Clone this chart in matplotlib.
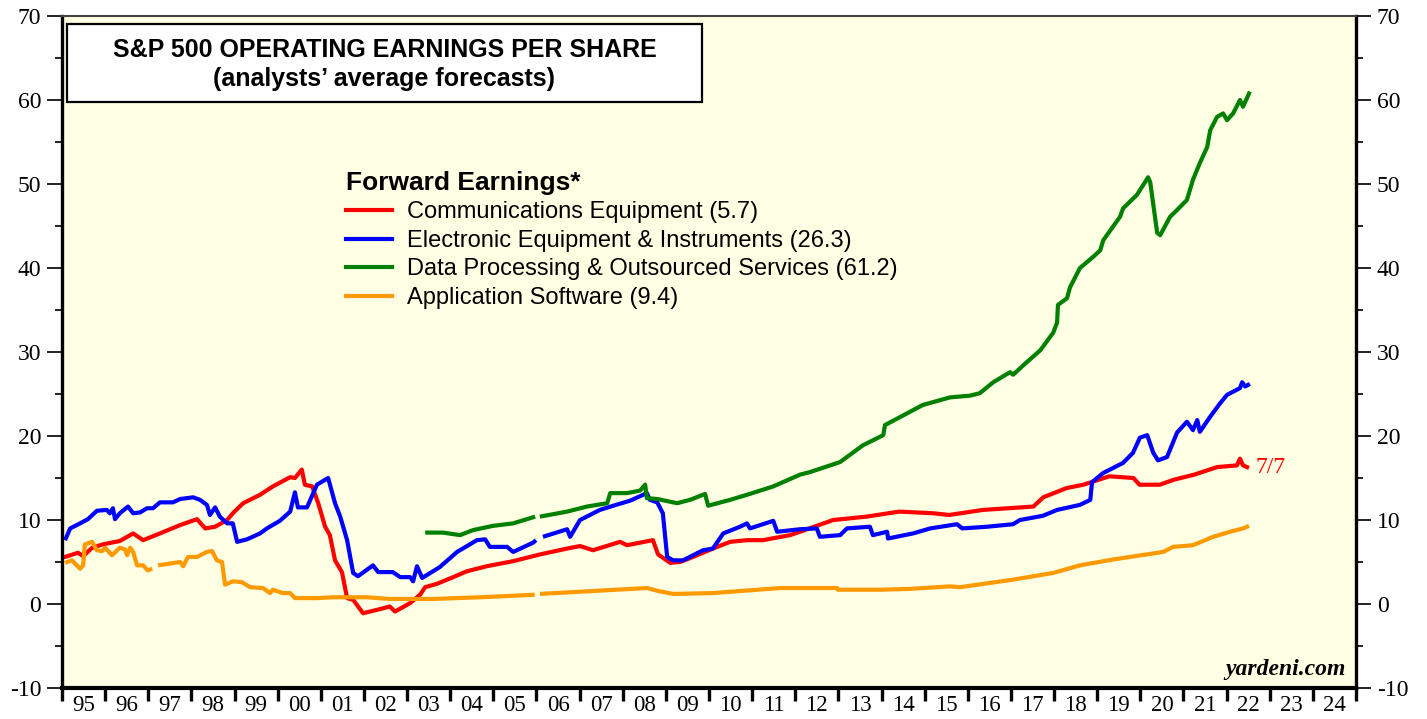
import numpy as np
import matplotlib
matplotlib.use('Agg')
import matplotlib.pyplot as plt
from matplotlib.patches import Rectangle
from matplotlib.ticker import MultipleLocator, NullFormatter
from matplotlib.lines import Line2D

nan = np.nan
plt.rcParams['axes.unicode_minus'] = False

# Communications Equipment (fractional year, forward EPS)
comm_x = [1995.00, 1995.07, 1995.37, 1995.49, 1995.70, 1995.95, 1996.34, 1996.65, 1996.88, 1997.27,
          1997.74, 1998.13, 1998.32, 1998.55, 1998.83, 1998.96, 1999.20, 1999.59, 1999.89, 2000.29,
          2000.40, 2000.56, 2000.63, 2000.80, 2000.94, 2001.10, 2001.21, 2001.33, 2001.49, 2001.61,
          2001.75, 2001.98, 2002.30, 2002.60, 2002.72, 2003.07, 2003.30, 2003.42, 2003.69, 2004.07,
          2004.39, 2004.85, 2005.46, 2006.08, 2006.71, 2007.01, 2007.31, 2007.94, 2008.10, 2008.70,
          2008.82, 2009.10, 2009.33, 2009.63, 2010.09, 2010.49, 2010.88, 2011.25, 2011.88, 2012.11,
          2012.88, 2013.65, 2014.41, 2015.20, 2015.57, 2016.35, 2017.52, 2017.75, 2018.29, 2018.68,
          2019.28, 2019.84, 2019.98, 2020.45, 2020.78, 2021.25, 2021.78, 2022.24, 2022.31, 2022.38,
          2022.52]
comm_y = [5.6, 5.6, 6.1, 5.7, 6.7, 7.1, 7.5, 8.4, 7.6, 8.4,
          9.4, 10.1, 9.0, 9.2, 10.0, 10.8, 12.0, 13.0, 14.0, 15.1,
          15.0, 16.0, 14.2, 14.0, 12.0, 9.2, 8.2, 5.2, 3.8, 0.7,
          0.5, -1.1, -0.7, -0.3, -0.9, 0.1, 1.1, 2.0, 2.4, 3.2,
          3.9, 4.5, 5.1, 5.9, 6.6, 6.9, 6.4, 7.4, 7.0, 7.6,
          5.9, 4.9, 5.0, 5.6, 6.6, 7.4, 7.6, 7.6, 8.2, 8.6,
          10.0, 10.4, 11.0, 10.8, 10.6, 11.2, 11.6, 12.7, 13.8, 14.2,
          15.2, 15.0, 14.2, 14.2, 14.8, 15.4, 16.3, 16.5, 17.3, 16.5,
          16.2]

# Electronic Equipment & Instruments
elec_x = [1995.07, 1995.19, 1995.42, 1995.60, 1995.81, 1996.04, 1996.11, 1996.18, 1996.23, 1996.34,
          1996.53, 1996.65, 1996.81, 1996.97, 1997.11, 1997.27, 1997.57, 1997.74, 1998.04, 1998.20,
          1998.36, 1998.43, 1998.55, 1998.66, 1998.83, 1998.96, 1999.06, 1999.29, 1999.59, 1999.75,
          2000.05, 2000.29, 2000.40, 2000.47, 2000.68, 2000.91, 2001.17, 2001.33, 2001.45, 2001.61,
          2001.75, 2001.86, 2002.21, 2002.33, 2002.67, 2002.84, 2003.07, 2003.14, 2003.23, 2003.35,
          2003.76, 2004.16, 2004.62, 2004.81, 2004.92, 2005.32, 2005.46, 2005.92, 2005.99, 2006.05,
          2006.15, 2006.71, 2006.78, 2007.01, 2007.47, 2007.78, 2008.17, 2008.56, 2008.63, 2008.80,
          2008.93, 2009.03, 2009.17, 2009.40, 2009.86, 2010.09, 2010.33, 2010.72, 2010.88, 2010.95,
          2011.49, 2011.58, 2012.11, 2012.50, 2012.57, 2013.04, 2013.20, 2013.73, 2013.80, 2014.13,
          2014.15, 2014.73, 2015.13, 2015.75, 2015.87, 2016.45, 2017.05, 2017.21, 2017.74, 2018.07,
          2018.60, 2018.84, 2018.88, 2019.14, 2019.60, 2019.83, 2019.99, 2020.16, 2020.30, 2020.41,
          2020.62, 2020.85, 2021.08, 2021.22, 2021.32, 2021.38, 2021.62, 2021.85, 2022.01, 2022.31,
          2022.36, 2022.43, 2022.54]
elec_y = [7.6, 9.0, 9.6, 10.1, 11.1, 11.2, 10.8, 11.4, 10.1, 10.8,
          11.6, 10.8, 10.9, 11.4, 11.4, 12.1, 12.1, 12.5, 12.7, 12.4,
          11.8, 10.6, 11.5, 10.4, 9.6, 9.6, 7.4, 7.7, 8.4, 9.0,
          9.9, 11.0, 13.3, 11.5, 11.5, 14.2, 15.0, 12.0, 10.4, 7.6,
          3.7, 3.3, 4.6, 3.8, 3.8, 3.2, 3.2, 2.7, 4.5, 3.1,
          4.4, 6.2, 7.6, 7.7, 6.8, 6.8, 6.2, 7.3, 7.6, nan,
          8.0, 8.9, 8.0, 10.0, 11.2, 11.7, 12.3, 13.2, 12.4, 12.1,
          10.8, 5.6, 5.2, 5.2, 6.4, 6.6, 8.4, 9.2, 9.6, 9.0,
          9.9, 8.6, 8.9, 9.0, 8.0, 8.2, 9.0, 9.2, 8.2, 8.6,
          7.8, 8.4, 9.0, 9.5, 9.0, 9.2, 9.5, 10.0, 10.5, 11.2,
          11.8, 12.4, 14.5, 15.6, 16.8, 18.0, 19.8, 20.1, 18.0, 17.1,
          17.5, 20.4, 21.7, 20.7, 21.9, 20.5, 22.3, 23.9, 24.9, 25.7,
          26.4, 25.9, 26.2]

# Data Processing & Outsourced Services
data_x = [2003.42, 2003.83, 2004.23, 2004.53, 2004.99, 2005.46, 2005.97, 2006.03, 2006.08, 2006.71,
          2007.17, 2007.64, 2007.71, 2008.10, 2008.40, 2008.52, 2008.56, 2008.80, 2009.26, 2009.56,
          2009.91, 2009.98, 2010.49, 2010.88, 2011.49, 2012.11, 2012.34, 2013.04, 2013.57, 2014.04,
          2014.08, 2014.96, 2015.59, 2016.05, 2016.28, 2016.59, 2016.98, 2017.05, 2017.37, 2017.68,
          2017.98, 2018.07, 2018.09, 2018.30, 2018.37, 2018.60, 2018.90, 2019.07, 2019.14, 2019.53,
          2019.60, 2019.92, 2020.18, 2020.23, 2020.39, 2020.46, 2020.69, 2020.85, 2021.08, 2021.22,
          2021.38, 2021.55, 2021.62, 2021.78, 2021.92, 2022.01, 2022.15, 2022.31, 2022.38, 2022.54]
data_y = [8.5, 8.5, 8.2, 8.8, 9.3, 9.6, 10.4, nan, 10.4, 11.0,
          11.6, 12.0, 13.2, 13.2, 13.5, 14.2, 12.6, 12.5, 12.0, 12.4,
          13.1, 11.7, 12.4, 13.0, 14.0, 15.4, 15.7, 16.9, 18.9, 20.1,
          21.3, 23.7, 24.6, 24.8, 25.1, 26.4, 27.6, 27.3, 28.8, 30.2,
          32.3, 33.5, 35.6, 36.4, 37.7, 40.0, 41.3, 42.1, 43.3, 46.1,
          47.1, 48.7, 50.8, 50.2, 44.2, 43.9, 46.1, 46.9, 48.1, 50.5,
          52.5, 54.4, 56.4, 58.0, 58.4, 57.6, 58.4, 60.0, 59.2, 61.0]

# Application Software
app_x = [1995.07, 1995.23, 1995.42, 1995.49, 1995.53, 1995.70, 1995.81, 1995.93, 1996.00, 1996.16,
         1996.34, 1996.46, 1996.51, 1996.58, 1996.65, 1996.74, 1996.88, 1996.99, 1997.09, 1997.16,
         1997.23, 1997.74, 1997.81, 1997.92, 1998.13, 1998.36, 1998.48, 1998.59, 1998.71, 1998.78,
         1998.96, 1999.17, 1999.36, 1999.66, 1999.82, 1999.89, 2000.12, 2000.29, 2000.40, 2000.91,
         2001.28, 2002.07, 2002.60, 2003.60, 2004.69, 2005.96, 2006.02, 2006.08, 2008.56, 2008.86,
         2009.17, 2010.09, 2011.65, 2012.97, 2012.99, 2013.97, 2014.66, 2015.59, 2015.82, 2017.05,
         2017.98, 2018.60, 2019.37, 2020.53, 2020.76, 2021.22, 2021.69, 2022.08, 2022.38, 2022.52]
app_y = [4.9, 5.2, 4.2, 4.6, 7.1, 7.4, 6.4, 6.3, 6.7, 5.8,
         6.7, 6.5, 5.8, 6.7, 6.2, 4.6, 4.6, 4.0, 4.2, nan,
         4.6, 5.0, 4.5, 5.6, 5.6, 6.2, 6.3, 5.2, 5.0, 2.3,
         2.7, 2.6, 2.0, 1.9, 1.3, 1.7, 1.3, 1.3, 0.7, 0.7,
         0.8, 0.8, 0.6, 0.6, 0.8, 1.1, nan, 1.2, 1.9, 1.5,
         1.2, 1.3, 1.9, 1.9, 1.7, 1.7, 1.8, 2.1, 2.0, 2.9,
         3.7, 4.6, 5.3, 6.2, 6.8, 7.0, 8.0, 8.6, 9.0, 9.3]

labels = ['Communications Equipment (5.7)', 'Electronic Equipment & Instruments (26.3)',
          'Data Processing & Outsourced Services (61.2)', 'Application Software (9.4)']
colors = ['#ff0000', '#0000ff', '#008000', '#ff9900']
year_labels = ['%02d' % (y % 100) for y in range(1995, 2025)]

sans = 'Liberation Sans'
serif = 'Liberation Serif'

fig = plt.figure(figsize=(14.27, 7.19), dpi=100)
ax = fig.add_axes([62/1427, 31/719, 1294/1427, 672/719])
ax.set_facecolor('#ffffe3')

series = [(comm_x, comm_y), (elec_x, elec_y), (data_x, data_y), (app_x, app_y)]
handles = []
for (xs, ys), c, lab in zip(series, colors, labels):
    ax.plot(xs, ys, color=c, lw=3.0, solid_capstyle='butt', solid_joinstyle='round')
    handles.append(Line2D([], [], color=c, lw=3.0))

ax.set_xlim(1995, 2025)
ax.set_ylim(-10, 70)

# x axis: tick marks at year boundaries, labels centred in the year
ax.set_xticks(range(1995, 2026))
ax.xaxis.set_major_formatter(NullFormatter())
ax.set_xticks(np.arange(1995.5, 2025, 1.0), minor=True)
ax.set_xticklabels(year_labels, minor=True, fontsize=16.5, family=serif)
ax.tick_params(axis='x', which='major', direction='out', length=9, width=2.4, color='black')
ax.tick_params(axis='x', which='minor', length=0, pad=5)

# y axis on both sides
ax.set_yticks(range(-10, 71, 10))
ax.yaxis.set_minor_locator(MultipleLocator(5))
ax.tick_params(axis='y', which='both', left=True, right=True, labelleft=True, labelright=True,
               direction='out', labelsize=17)
ax.tick_params(axis='y', which='major', length=11, width=1.2, pad=4)
ax.tick_params(axis='y', which='minor', length=5, width=1.2)
for t in ax.get_yticklabels():
    t.set_family(serif)

for side in ['left', 'right']:
    ax.spines[side].set_linewidth(2.4)
ax.spines['bottom'].set_linewidth(3.0)
ax.spines['top'].set_linewidth(1.5)
ax.spines['top'].set_color('#444444')

# title box
ax.add_patch(Rectangle((0.0039, 0.872), 0.4907, 0.116, transform=ax.transAxes,
                       facecolor='white', edgecolor='black', lw=1.6, zorder=5))
ax.text(0.2492, 0.949, 'S&P 500 OPERATING EARNINGS PER SHARE', transform=ax.transAxes,
        ha='center', va='center', fontsize=18, fontweight='bold', family=sans, zorder=6)
ax.text(0.2492, 0.906, '(analysts\u2019 average forecasts)', transform=ax.transAxes,
        ha='center', va='center', fontsize=18, fontweight='bold', family=sans, zorder=6)

leg = ax.legend(handles, labels, title='Forward Earnings*', loc='upper left',
                bbox_to_anchor=(0.2195, 0.770), frameon=False, borderaxespad=0, borderpad=0,
                prop={'family': sans, 'size': 17},
                title_fontproperties={'family': sans, 'size': 19, 'weight': 'bold'},
                alignment='left', handlelength=1.95, handletextpad=0.65, labelspacing=0.28)

# last data point label
ax.text(comm_x[-1] + 0.15, comm_y[-1] + 0.1, '7/7', color='#ff0000', fontsize=17, family=serif,
        ha='left', va='center')

ax.text(0.992, 0.012, 'yardeni.com', transform=ax.transAxes, ha='right', va='bottom',
        fontsize=17, fontweight='bold', fontstyle='italic', family=serif)

fig.savefig('out.png', dpi=100)
